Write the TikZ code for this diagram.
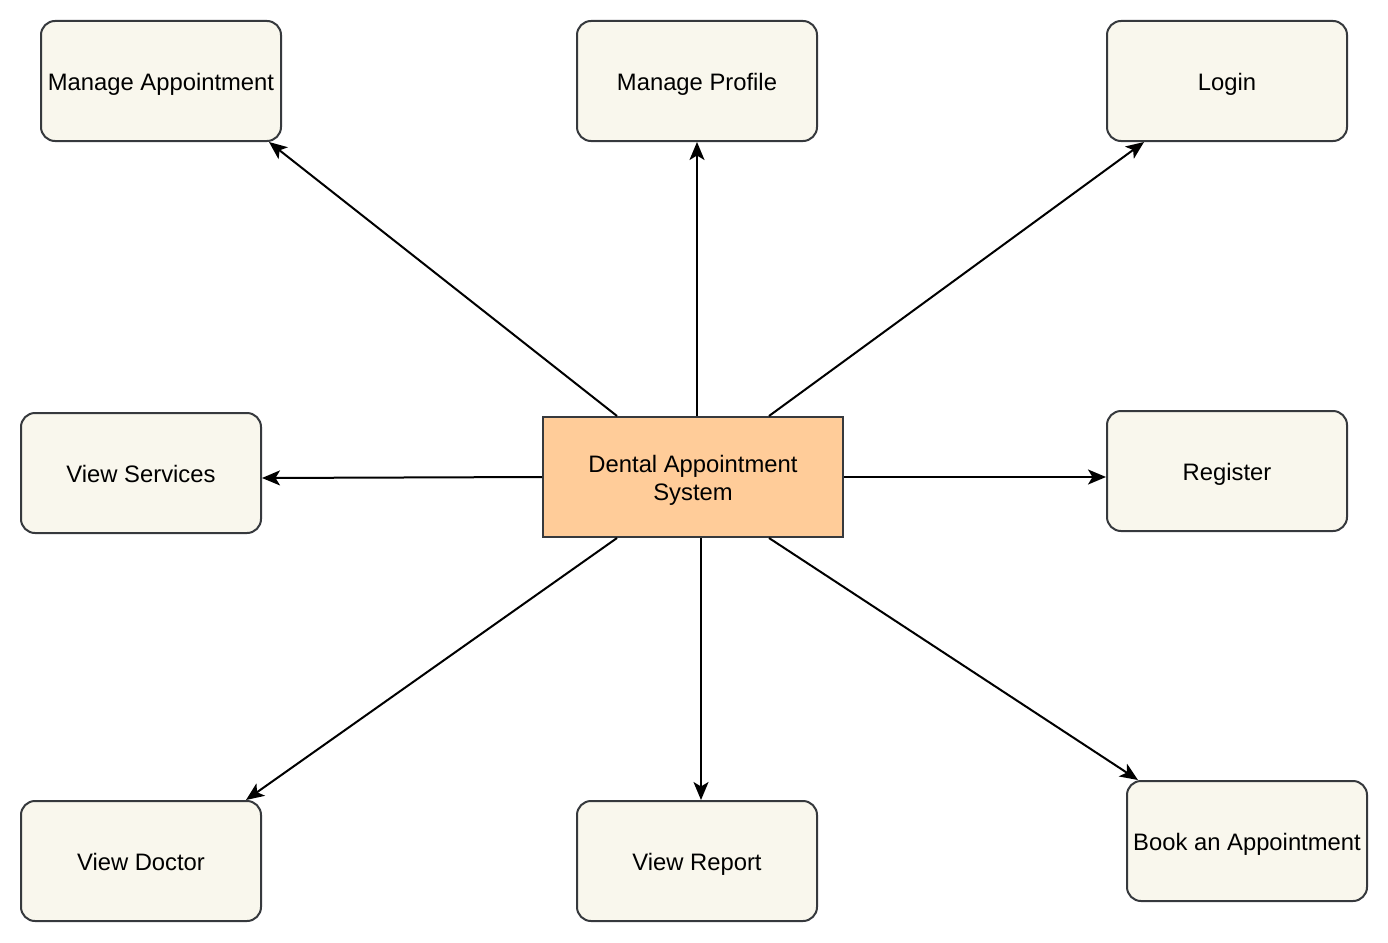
\documentclass[tikz,border=0pt]{standalone}
\usepackage{fontspec}
\setmainfont{Liberation Sans}
\usepackage{tikz}
\usetikzlibrary{arrows.meta, calc}

\definecolor{boxfill}{HTML}{F9F7ED}
\definecolor{boxline}{HTML}{36393D}
\definecolor{sysfill}{HTML}{FFCC99}

\tikzset{
	usecase/.style={draw=boxline, line width=2pt, fill=boxfill, rounded corners=14pt,
		minimum width=240pt, minimum height=120pt, inner sep=0pt,
		text height=18pt, text depth=0pt,
		font=\fontsize{23.8}{28}\selectfont},
	sysbox/.style={draw=boxline, line width=2pt, fill=sysfill,
		minimum width=300pt, minimum height=120pt, inner sep=0pt, align=center,
		text height=46pt, text depth=0pt,
		font=\fontsize{23.8}{28}\selectfont},
	link/.style={line width=2pt, -{Stealth[length=18pt, width=15pt, inset=4.5pt]}}
}

\begin{document}
\begin{tikzpicture}[x=1pt, y=-1pt]
			\useasboundingbox (0,0) rectangle (1388,942);
			\node[sysbox] (sys) at (693,477) {Dental Appointment\\System};
			
			\node[usecase] (mappt) at (161,81) {Manage Appointment};
			\node[usecase] (mprof) at (697,81) {Manage Profile};
			\node[usecase] (login) at (1227,81) {Login};
			\node[usecase] (serv) at (141,473) {View Services};
			\node[usecase] (reg) at (1227,471) {Register};
			\node[usecase] (doc) at (141,861) {View Doctor};
			\node[usecase] (rep) at (697,861) {View Report};
			\node[usecase] (book) at (1247,841) {Book an Appointment};
			
			\draw[link] ([xshift=75pt]sys.north west) -- ([xshift=-13pt]mappt.south east);
			\draw[link] ([xshift=4pt]sys.north) -- (mprof.south);
			\draw[link] ([xshift=-75pt]sys.north east) -- ([xshift=38pt]login.south west);
			\draw[link] (sys.west) -- ([yshift=-5pt]serv.east);
			\draw[link] (sys.east) -- ([yshift=-6pt]reg.west);
			\draw[link] ([xshift=75pt]sys.south west) -- ([xshift=-16pt]doc.north east);
			\draw[link] ([xshift=8pt]sys.south) -- ([xshift=4pt]rep.north);
			\draw[link] ([xshift=-75pt]sys.south east) -- ([xshift=12pt]book.north west);
\end{tikzpicture}
\end{document}
